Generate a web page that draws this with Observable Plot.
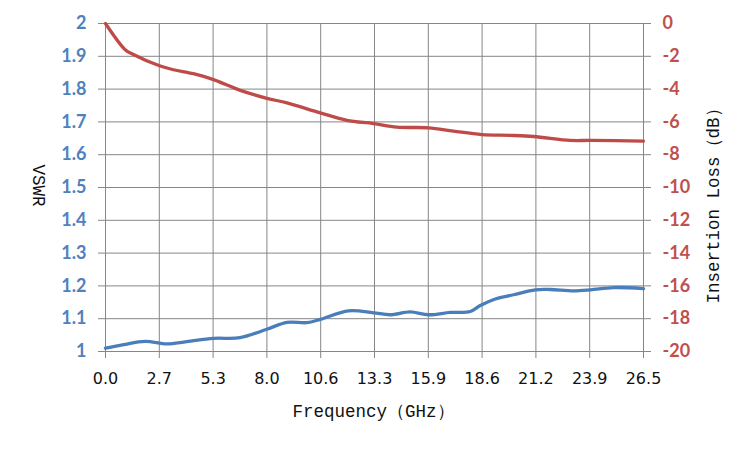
<!DOCTYPE html>
<html>
<head>
<meta charset="utf-8">
<script src="https://cdn.jsdelivr.net/npm/d3@7"></script>
<script src="https://cdn.jsdelivr.net/npm/@observablehq/plot@0.6"></script>
<style>
  html, body { margin: 0; padding: 0; background: #fff; }
  #chart svg { display: block; }
</style>
</head>
<body>
<div id="chart"></div>
<script>
// Frequency ticks (GHz) and their printed labels
const xTickValues = [0, 2.65, 5.3, 7.95, 10.6, 13.25, 15.9, 18.55, 21.2, 23.85, 26.5];
const xTickLabels = ["0.0", "2.7", "5.3", "8.0", "10.6", "13.3", "15.9", "18.6", "21.2", "23.9", "26.5"];

// Left axis (VSWR)
const vswrTicks = [1, 1.1, 1.2, 1.3, 1.4, 1.5, 1.6, 1.7, 1.8, 1.9, 2];
const vswrTickLabels = ["1", "1.1", "1.2", "1.3", "1.4", "1.5", "1.6", "1.7", "1.8", "1.9", "2"];

// Right axis (Insertion Loss, dB)
const ilTicks = [0, -2, -4, -6, -8, -10, -12, -14, -16, -18, -20];
const ilTickLabels = ["0", "-2", "-4", "-6", "-8", "-10", "-12", "-14", "-16", "-18", "-20"];

// VSWR series
const vswrFreq = [0, 0.89, 1.95, 3.02, 4.0, 5.32, 6.63, 7.95, 8.94, 9.92, 10.58, 11.97, 13.2, 14.02, 15.01, 15.91, 16.98, 17.97, 18.46, 19.2, 20.1, 21.17, 21.9, 23.05, 23.88, 25.02, 26.5];
const vswrValues = [1.010, 1.021, 1.031, 1.023, 1.030, 1.040, 1.042, 1.068, 1.089, 1.088, 1.098, 1.124, 1.118, 1.112, 1.121, 1.112, 1.119, 1.122, 1.140, 1.160, 1.173, 1.188, 1.189, 1.185, 1.188, 1.195, 1.192];

// Insertion loss series (dB)
const ilFreq = [0, 0.97, 1.3, 2.66, 3.35, 4.33, 5.32, 6.64, 7.95, 8.94, 10.58, 11.89, 13.2, 14.35, 15.91, 17.14, 18.54, 19.94, 21.09, 22.9, 23.88, 26.5];
const ilValues = [0, -1.6, -1.84, -2.58, -2.82, -3.06, -3.42, -4.08, -4.56, -4.84, -5.45, -5.9, -6.1, -6.32, -6.36, -6.56, -6.77, -6.82, -6.89, -7.13, -7.13, -7.17];

const vswrData = vswrFreq.map((f, i) => ({f, v: vswrValues[i]}));
const ilData = ilFreq.map((f, i) => ({f, il: ilValues[i]}));

// IL (-20..0 dB) shares the VSWR (1..2) vertical scale
const ilToY = il => 2 + il / 20;
const ilTickPos = ilTicks.map(ilToY);

const BLUE_TXT = "#4F81BD", RED_TXT = "#C0504D";
const BLUE_LINE = "#4A7EBB", RED_LINE = "#BE4B48";
const GRID = "#868686";

const chart = Plot.plot({
  width: 750,
  height: 450,
  marginLeft: 105,
  marginRight: 107,
  marginTop: 23,
  marginBottom: 99,
  style: {background: "#fff", overflow: "visible"},
  x: {domain: [0, 26.5]},
  y: {domain: [1, 2]},
  marks: [
    Plot.gridX(xTickValues, {stroke: GRID, strokeOpacity: 1, strokeWidth: 1}),
    Plot.gridY(vswrTicks, {stroke: GRID, strokeOpacity: 1, strokeWidth: 1}),
    Plot.axisX(xTickValues, {
      anchor: "bottom", tickSize: 7, tickPadding: 14, stroke: GRID, fill: "#111",
      tickFormat: d => xTickLabels[xTickValues.indexOf(d)],
      fontFamily: "DejaVu Sans", fontSize: 16, label: null
    }),
    Plot.axisY(vswrTicks, {
      anchor: "left", tickSize: 7, tickPadding: 12, stroke: GRID, fill: BLUE_TXT,
      tickFormat: d => vswrTickLabels[vswrTicks.indexOf(d)],
      fontFamily: "Lato", fontWeight: "bold", fontSize: 18, label: null
    }),
    Plot.axisY(ilTickPos, {
      anchor: "right", tickSize: 7, tickPadding: 12, stroke: GRID, fill: RED_TXT,
      tickFormat: d => ilTickLabels[ilTickPos.indexOf(d)],
      fontFamily: "Lato", fontWeight: "bold", fontSize: 18, label: null
    }),
    Plot.lineY(ilData, {x: "f", y: d => ilToY(d.il), stroke: RED_LINE, strokeWidth: 3.3, curve: "catmull-rom"}),
    Plot.lineY(vswrData, {x: "f", y: "v", stroke: BLUE_LINE, strokeWidth: 3.3, curve: "catmull-rom"}),
    Plot.text(["VSWR"], {frameAnchor: "left", textAnchor: "middle", dx: -67, dy: -2, rotate: 90, fontFamily: "Liberation Mono", fontSize: 17.5, fill: "#111"}),
    Plot.text(["Insertion Loss（dB）"], {frameAnchor: "right", textAnchor: "middle", dx: 70, dy: 14, rotate: -90, fontFamily: "Liberation Mono", fontSize: 17.5, fill: "#111"}),
    Plot.text(["Frequency（GHz）"], {frameAnchor: "bottom", textAnchor: "middle", dx: -1, dy: 65, fontFamily: "Liberation Mono", fontSize: 17.5, fill: "#111"})
  ]
});
document.getElementById("chart").appendChild(chart);
</script>
</body>
</html>
